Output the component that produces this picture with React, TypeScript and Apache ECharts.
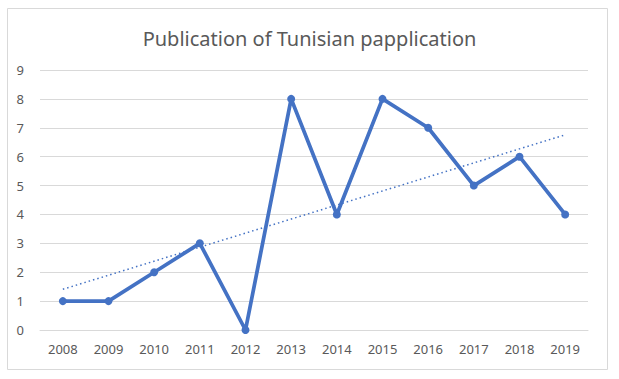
import React, { useEffect, useRef } from "react";
import * as echarts from "echarts";

const years = ["2008", "2009", "2010", "2011", "2012", "2013", "2014", "2015", "2016", "2017", "2018", "2019"];
const publications = [1, 1, 2, 3, 0, 8, 4, 8, 7, 5, 6, 4];
const titleText = "Publication of Tunisian papplication";

function linearTrend(vals: number[]): number[] {
  const n = vals.length;
  const mx = (n - 1) / 2;
  const my = vals.reduce((a, b) => a + b, 0) / n;
  let sxy = 0, sxx = 0;
  vals.forEach((v, i) => { sxy += (i - mx) * (v - my); sxx += (i - mx) * (i - mx); });
  const slope = sxy / sxx;
  const b = my - slope * mx;
  return vals.map((_, i) => +(b + slope * i).toFixed(4));
}

export default function App() {
  const ref = useRef<HTMLDivElement>(null);
  useEffect(() => {
    if (!ref.current) return;
    const chart = echarts.init(ref.current, undefined, { renderer: "svg" });
    const font = "Noto Sans";
    chart.setOption({
      animation: false,
      backgroundColor: "#ffffff",
      textStyle: { fontFamily: font },
      title: {
        text: titleText,
        left: "center",
        top: 23,
        textStyle: { fontFamily: font, fontSize: 20, fontWeight: "normal", color: "#595959" },
      },
      graphic: [
        {
          type: "rect",
          shape: { x: 7.5, y: 8.5, width: 600, height: 361 },
          style: { fill: "none", stroke: "#d9d9d9", lineWidth: 1 },
          silent: true,
        },
      ],
      grid: { left: 40, right: 31, top: 70, bottom: 49 },
      xAxis: {
        type: "category",
        data: years,
        boundaryGap: true,
        axisLine: { lineStyle: { color: "#d9d9d9" } },
        axisTick: { show: false },
        axisLabel: { color: "#595959", fontSize: 13, margin: 12, fontFamily: font },
      },
      yAxis: {
        type: "value",
        min: 0,
        max: 9,
        interval: 1,
        axisLine: { show: false },
        axisTick: { show: false },
        splitLine: { lineStyle: { color: "#d9d9d9", width: 1 } },
        axisLabel: { color: "#595959", fontSize: 13, margin: 16, fontFamily: font },
      },
      series: [
        {
          type: "line",
          data: publications,
          symbol: "circle",
          symbolSize: 8,
          lineStyle: { color: "#4472C4", width: 3.75 },
          itemStyle: { color: "#4472C4" },
          z: 3,
        },
        {
          type: "line",
          data: linearTrend(publications),
          symbol: "none",
          lineStyle: { color: "#4472C4", width: 1.5, type: [1.5, 3] },
          z: 2,
        },
      ],
    });
    return () => chart.dispose();
  }, []);
  return <div ref={ref} style={{ width: 619, height: 379, position: "absolute", left: 0, top: 0 }} />;
}
